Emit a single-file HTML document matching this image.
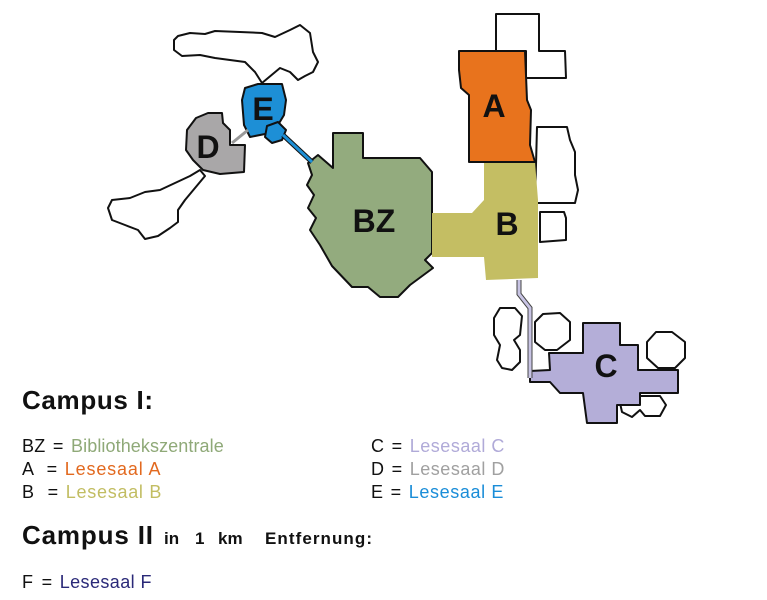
<!DOCTYPE html>
<html><head><meta charset="utf-8"><style>
html,body{margin:0;padding:0;background:#fff;}
svg{display:block;}
text{font-family:"Liberation Sans",Arial,sans-serif;}
</style></head><body>
<svg width="767" height="600" viewBox="0 0 767 600" xmlns="http://www.w3.org/2000/svg">
<g stroke="#111" stroke-width="2" stroke-linejoin="round">
<path fill="#fff" d="M178,36 L190,33 L205,34 L215,31 L240,32 L262,33 L275,37 L290,30 L300,25 L310,33 L313,52 L318,62 L313,72 L305,76 L298,80 L290,72 L280,68 L268,78 L262,83 L255,72 L245,62 L230,60 L215,58 L200,55 L182,56 L174,50 L174,40 Z"/>
<path fill="#fff" d="M200,170 L190,176 L175,183 L160,190 L145,192 L130,198 L112,200 L108,208 L112,220 L125,225 L138,230 L145,239 L158,236 L170,228 L178,222 L178,210 L185,200 L195,188 L205,176 Z"/>
<path fill="#fff" d="M496,14 L539,14 L539,51 L565,51 L566,78 L526,78 L526,51 L496,51 Z"/>
<path fill="#fff" d="M537,127 L567,127 L570,140 L575,152 L575,175 L578,190 L575,203 L535,203 Z"/>
<path fill="#fff" d="M540,212 L564,212 L566,218 L566,240 L540,242 Z"/>
<path fill="#fff" d="M500,308 L515,308 L522,316 L520,335 L514,340 L520,350 L520,362 L512,370 L502,368 L497,360 L500,345 L494,335 L494,318 Z"/>
<path fill="#fff" d="M543,314 L560,313 L570,322 L570,340 L557,350 L545,350 L535,342 L535,322 Z"/>
<path fill="#fff" d="M656,332 L672,332 L685,342 L685,358 L675,368 L658,368 L647,358 L647,342 Z"/>
<path fill="#fff" d="M625,396 L660,396 L666,405 L660,416 L645,416 L640,410 L632,417 L622,412 L620,403 Z"/>
<path fill="#93ab7e" d="M333,133 L363,133 L363,158 L420,158 L432,172 L432,253 L425,260 L433,268 L410,285 L398,297 L380,297 L368,287 L352,287 L332,266 L320,245 L310,230 L316,218 L308,208 L314,195 L307,185 L312,175 L308,163 L318,155 L333,168 Z"/>
<path fill="#c4be63" stroke="none" d="M484,162 L535,162 L538,200 L538,278 L486,280 L484,257 L432,257 L432,213 L472,213 L484,200 Z"/>
<path fill="#e8731d" d="M459,51 L525,51 L527,100 L531,110 L530,145 L535,162 L469,162 L469,95 L461,88 L459,70 Z"/>
<path fill="#1d8fd6" d="M245,88 L258,84 L282,84 L286,100 L284,115 L278,125 L265,134 L250,137 L244,125 L242,100 Z"/>
<path fill="#1d8fd6" d="M267,126 L278,122 L286,130 L282,140 L272,143 L265,137 Z"/>
<path fill="#a9a7a8" d="M196,118 L208,113 L222,113 L223,123 L230,130 L230,145 L245,145 L244,172 L220,174 L203,170 L193,160 L186,150 L187,130 Z"/>
<path fill="#b4aed8" d="M583,323 L620,323 L620,345 L638,345 L638,370 L678,370 L678,393 L640,393 L640,405 L617,405 L617,423 L587,423 L583,393 L560,393 L550,382 L530,382 L530,371 L550,370 L549,353 L583,353 Z"/>
</g>
<line x1="283" y1="135" x2="312" y2="162" stroke="#111" stroke-width="5"/>
<line x1="283" y1="135" x2="312" y2="162" stroke="#1d8fd6" stroke-width="3"/>
<line x1="232" y1="143" x2="248" y2="130" stroke="#999" stroke-width="3"/>
<polyline points="519,280 519,294 530,308 530,378" fill="none" stroke="#444" stroke-width="5"/>
<polyline points="519,280 519,294 530,308 530,378" fill="none" stroke="#c8c4e4" stroke-width="3"/>
<g font-weight="bold" fill="#111" font-size="32" text-anchor="middle">
<text x="494" y="117">A</text>
<text x="507" y="235">B</text>
<text x="374" y="232">BZ</text>
<text x="606" y="377">C</text>
<text x="208" y="158">D</text>
<text x="263" y="120">E</text>
</g>
<text x="22" y="409" font-size="26" font-weight="bold" fill="#111" textLength="131">Campus I:</text>
<g font-size="18" letter-spacing="0.3">
<text x="22" y="452" fill="#111">BZ <tspan dx="2">=</tspan> <tspan dx="2" fill="#8fa978" textLength="153">Bibliothekszentrale</tspan></text>
<text x="22" y="475" fill="#111">A <tspan dx="8">=</tspan> <tspan dx="2" fill="#e2691f" textLength="96">Lesesaal A</tspan></text>
<text x="22" y="498" fill="#111">B <tspan dx="8">=</tspan> <tspan dx="2" fill="#c2bd62" textLength="96">Lesesaal B</tspan></text>
<text x="371" y="452" fill="#111">C <tspan dx="2">=</tspan> <tspan dx="2" fill="#b0aad8" textLength="95">Lesesaal C</tspan></text>
<text x="371" y="475" fill="#111">D <tspan dx="2">=</tspan> <tspan dx="2" fill="#a0a0a0" textLength="95">Lesesaal D</tspan></text>
<text x="371" y="498" fill="#111">E <tspan dx="2">=</tspan> <tspan dx="2" fill="#1a8dd8" textLength="95">Lesesaal E</tspan></text>
<text x="22" y="588" fill="#111">F <tspan dx="3">=</tspan> <tspan dx="2" fill="#2a2978" textLength="92">Lesesaal F</tspan></text>
</g>
<text x="22" y="544" font-size="26" font-weight="bold" fill="#111" textLength="131">Campus II</text>
<g font-size="17" font-weight="bold" fill="#111">
<text x="164" y="544">in</text>
<text x="195" y="544">1</text>
<text x="218" y="544">km</text>
<text x="265" y="544" textLength="107">Entfernung:</text>
</g>
</svg>
</body></html>
